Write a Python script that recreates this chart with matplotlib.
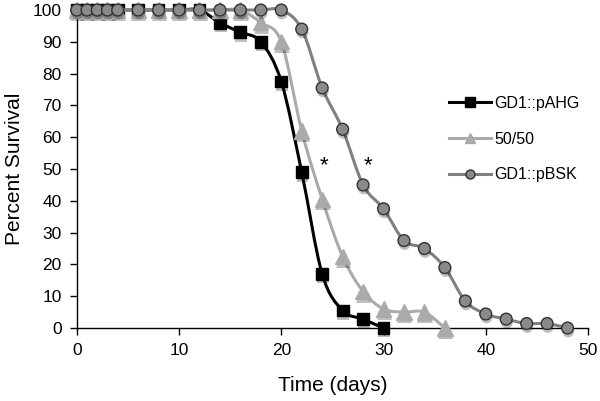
import matplotlib
matplotlib.use("Agg")
import matplotlib.pyplot as plt
import matplotlib.patheffects as pe
from matplotlib.path import Path
from matplotlib.patches import PathPatch
from matplotlib.lines import Line2D

plt.rcParams['font.family'] = ['Liberation Sans', 'DejaVu Sans']

days_ahg = [0, 1, 2, 3, 4, 6, 8, 10, 12, 14, 16, 18, 20, 22, 24, 26, 28, 30]
surv_ahg = [100, 100, 100, 100, 100, 100, 100, 100, 100, 96, 93, 90, 77.5, 49, 17, 5.5, 2.8, 0]

days_mix = [0, 1, 2, 3, 4, 6, 8, 10, 12, 14, 16, 18, 20, 22, 24, 26, 28, 30, 32, 34, 36]
surv_mix = [100, 100, 100, 100, 100, 100, 100, 100, 100, 100, 100, 96, 90, 62, 40.5, 22.5, 11.5, 6, 5, 5, 0]

days_bsk = [0, 1, 2, 3, 4, 6, 8, 10, 12, 14, 16, 18, 20, 22, 24, 26, 28, 30, 32, 34, 36, 38, 40, 42, 44, 46, 48]
surv_bsk = [100, 100, 100, 100, 100, 100, 100, 100, 100, 100, 100, 100, 100, 94, 75.5, 62.5, 45, 37.5, 27.5, 25, 19, 8.5, 4.4, 2.8, 1.4, 1.4, 0]

labels = ["GD1::pAHG", "50/50", "GD1::pBSK"]
star_x = [24.2, 28.5]
star_y = [51, 51]


def smooth_path(xs, ys):
    pts = list(zip(xs, ys))
    verts = [pts[0]]
    codes = [Path.MOVETO]
    n = len(pts)
    for i in range(n - 1):
        p0 = pts[i - 1] if i > 0 else pts[i]
        p1 = pts[i]
        p2 = pts[i + 1]
        p3 = pts[i + 2] if i + 2 < n else pts[i + 1]
        c1 = (p1[0] + (p2[0] - p0[0]) / 6.0, p1[1] + (p2[1] - p0[1]) / 6.0)
        c2 = (p2[0] - (p3[0] - p1[0]) / 6.0, p2[1] - (p3[1] - p1[1]) / 6.0)
        verts += [c1, c2, p2]
        codes += [Path.CURVE4] * 3
    return Path(verts, codes)


fig = plt.figure(figsize=(6.0, 4.01), dpi=100)
ax = fig.add_axes([0.128, 0.182, 0.852, 0.793])

series = [
    (days_ahg, surv_ahg, 'black', 's', 'black', 'black', 8.5, 2.2),
    (days_mix, surv_mix, '#aaaaaa', '^', '#aaaaaa', '#aaaaaa', 11, 2.2),
    (days_bsk, surv_bsk, '#808080', 'o', '#8a8a8a', '#333333', 8.5, 2.2),
]

shadow = [pe.SimplePatchShadow(offset=(0.5, -2.5), shadow_rgbFace='k', alpha=0.25), pe.Normal()]

for z, (xs, ys, lc, mk, mfc, mec, ms, lw) in enumerate(series):
    patch = PathPatch(smooth_path(xs, ys), fill=False, edgecolor=lc, lw=lw,
                      zorder=3 + 2 * z, clip_on=False)
    ax.add_patch(patch)
    ax.plot(xs, ys, ls='none', marker=mk, ms=ms, mfc=mfc, mec=mec, mew=1.0,
            zorder=4 + 2 * z, clip_on=False, path_effects=shadow)

for sx, sy in zip(star_x, star_y):
    ax.text(sx, sy, '*', fontsize=16, ha='center', va='center', color='black', zorder=10)

ax.set_xlim(0, 50)
ax.set_ylim(0, 100)
ax.set_xticks(range(0, 51, 10))
ax.set_yticks(range(0, 101, 10))
ax.tick_params(direction='out', length=5, width=1, labelsize=12.5, colors='black', pad=6)
for s in ['top', 'right']:
    ax.spines[s].set_visible(False)
for s in ['left', 'bottom']:
    ax.spines[s].set_linewidth(1.0)

ax.set_xlabel('Time (days)', fontsize=15, labelpad=13)
ax.set_ylabel('Percent Survival', fontsize=15, labelpad=6)

handles = [
    Line2D([], [], color='black', lw=2.2, marker='s', ms=6.5, mfc='black', mec='black'),
    Line2D([], [], color='#aaaaaa', lw=2.2, marker='^', ms=7, mfc='#aaaaaa', mec='#aaaaaa'),
    Line2D([], [], color='#808080', lw=2.2, marker='o', ms=6.5, mfc='#8a8a8a', mec='#333333'),
]
ax.legend(handles, labels, loc='upper left', bbox_to_anchor=(0.7, 0.775), frameon=False,
          fontsize=11.5, handlelength=2.6, handletextpad=0.25, labelspacing=1.3, numpoints=1)

fig.savefig('out.png', dpi=100)
